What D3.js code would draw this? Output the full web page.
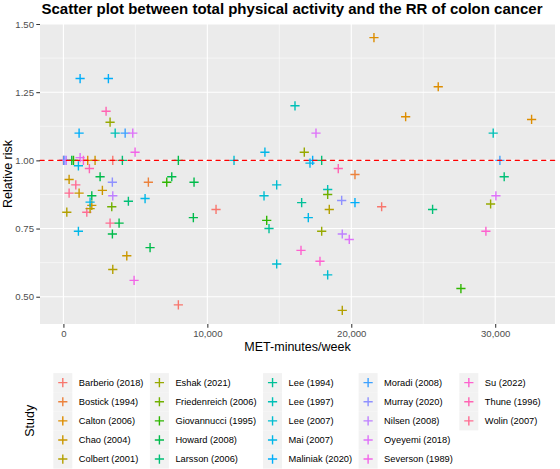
<!DOCTYPE html>
<html>
<head>
<meta charset="utf-8">
<script src="https://cdn.jsdelivr.net/npm/d3@7/dist/d3.min.js"></script>
<style>
  html, body { margin: 0; padding: 0; background: #ffffff; }
  svg { display: block; font-family: "Liberation Sans", Arial, sans-serif; }
</style>
</head>
<body>
<svg id="chart" width="560" height="469"></svg>
<script>
// ---------------- DATA ----------------
const studies = [
  "Barberio (2018)", "Bostick (1994)", "Calton (2006)", "Chao (2004)", "Colbert (2001)",
  "Eshak (2021)", "Friedenreich (2006)", "Giovannucci (1995)", "Howard (2008)", "Larsson (2006)",
  "Lee (1994)", "Lee (1997)", "Lee (2007)", "Mai (2007)", "Maliniak (2020)",
  "Moradi (2008)", "Murray (2020)", "Nilsen (2008)", "Oyeyemi (2018)", "Severson (1989)",
  "Su (2022)", "Thune (1996)", "Wolin (2007)"
];

// study of each point
const pointStudy = [
  "Maliniak (2020)", "Maliniak (2020)", "Thune (1996)", "Eshak (2021)", "Maliniak (2020)",
  "Lee (1997)", "Moradi (2008)", "Oyeyemi (2018)", "Severson (1989)", "Wolin (2007)",
  "Moradi (2008)", "Murray (2020)", "Nilsen (2008)", "Howard (2008)", "Giovannucci (1995)",
  "Mai (2007)", "Oyeyemi (2018)", "Su (2022)", "Calton (2006)", "Chao (2004)",
  "Thune (1996)", "Barberio (2018)", "Larsson (2006)", "Howard (2008)", "Howard (2008)",
  "Murray (2020)", "Chao (2004)", "Wolin (2007)", "Bostick (1994)", "Giovannucci (1995)",
  "Howard (2008)", "Howard (2008)", "Wolin (2007)", "Chao (2004)", "Chao (2004)",
  "Howard (2008)", "Nilsen (2008)", "Colbert (2001)", "Wolin (2007)", "Chao (2004)",
  "Colbert (2001)", "Mai (2007)", "Friedenreich (2006)", "Larsson (2006)", "Mai (2007)",
  "Howard (2008)", "Mai (2007)", "Wolin (2007)", "Howard (2008)", "Howard (2008)",
  "Howard (2008)", "Chao (2004)", "Colbert (2001)", "Severson (1989)", "Barberio (2018)",
  "Calton (2006)", "Lee (1997)", "Oyeyemi (2018)", "Mai (2007)", "Eshak (2021)",
  "Lee (2007)", "Mai (2007)", "Maliniak (2020)", "Larsson (2006)", "Thune (1996)",
  "Bostick (1994)", "Lee (2007)", "Lee (2007)", "Lee (1994)", "Lee (1997)",
  "Friedenreich (2006)", "Murray (2020)", "Maliniak (2020)", "Barberio (2018)", "Giovannucci (1995)",
  "Lee (1994)", "Mai (2007)", "Colbert (2001)", "Eshak (2021)", "Nilsen (2008)",
  "Oyeyemi (2018)", "Su (2022)", "Su (2022)", "Lee (2007)", "Lee (2007)",
  "Colbert (2001)", "Barberio (2018)", "Calton (2006)", "Calton (2006)", "Calton (2006)",
  "Lee (1997)", "Moradi (2008)", "Larsson (2006)", "Oyeyemi (2018)", "Eshak (2021)",
  "Larsson (2006)", "Su (2022)", "Giovannucci (1995)"
];

// MET-minutes/week of each point
const pointMet = [
  1160, 3125, 2965, 3243, 1090,
  3597, 4290, 4819, 4979, 0,
  30, 100, 200, 580, 700,
  1042, 1160, 1390, 1690, 2200,
  1805, 3430, 4097, 7986, 2549,
  3400, 396, 861, 5903, 7180,
  7528, 9076, 396, 1090, 2708,
  1972, 3430, 236, 1625, 1972,
  1854, 1854, 3360, 4514, 5674,
  9028, 1042, 3243, 3868, 3403,
  6021, 4403, 3430, 4910, 7986,
  21576, 16090, 17549, 14000, 16736,
  11854, 17132, 17317, 17944, 19097,
  20257, 14819, 13938, 16553, 18361,
  18361, 19333, 20257, 10604, 14125,
  14285, 17014, 18472, 17944, 19375,
  19861, 16507, 17826, 14819, 18361,
  19375, 22111, 26042, 23778, 32528,
  29861, 30326, 30625, 30049, 29681,
  25650, 29354, 27618
];

// relative risk of each point
const pointRR = [
  1.30, 1.30, 1.18, 1.14, 1.10,
  1.10, 1.10, 1.10, 1.03, 1.00,
  1.00, 1.00, 1.00, 1.00, 1.00,
  0.98, 1.01, 1.00, 1.00, 1.00,
  0.97, 1.00, 1.00, 1.00, 0.94,
  0.92, 0.93, 0.91, 0.92, 0.92,
  0.94, 0.92, 0.88, 0.88, 0.89,
  0.87, 0.87, 0.81, 0.81, 0.835,
  0.823, 0.847, 0.83, 0.85, 0.86,
  0.79, 0.74, 0.77, 0.77, 0.73,
  0.68, 0.65, 0.60, 0.56, 0.47,
  1.45, 1.20, 1.10, 1.03, 1.03,
  1.00, 0.99, 1.00, 1.00, 0.97,
  0.948, 0.91, 0.87, 0.845, 0.893,
  0.875, 0.853, 0.845, 0.82, 0.78,
  0.75, 0.79, 0.82, 0.74, 0.73,
  0.71, 0.67, 0.63, 0.62, 0.58,
  0.45, 0.83, 1.27, 1.16, 1.15,
  1.10, 1.00, 0.94, 0.87, 0.84,
  0.82, 0.74, 0.53
];

const xTicks = [0, 10000, 20000, 30000];
const yTicks = [0.50, 0.75, 1.00, 1.25, 1.50];
const xMinor = [5000, 15000, 25000];
const yMinor = [0.625, 0.875, 1.125, 1.375];
const refLineRR = 1.0;

const titleText = "Scatter plot between total physical activity and the RR of colon cancer";
const xTitle = "MET-minutes/week";
const yTitle = "Relative risk";
const legendTitle = "Study";

// ---------------- COLOURS (ggplot2 hue palette, R hcl / polarLUV) ----------------
function hclR(h, c, l) {
  const hr = h * Math.PI / 180;
  const u = c * Math.cos(hr), v = c * Math.sin(hr);
  const Xn = 95.047, Yn = 100, Zn = 108.883;
  const Y = Yn * (l > 8 ? Math.pow((l + 16) / 116, 3) : l / 903.3);
  const t = Xn + 15 * Yn + 3 * Zn;
  const un = 4 * Xn / t, vn = 9 * Yn / t;
  const up = u / (13 * l) + un, vp = v / (13 * l) + vn;
  const X = 9 * Y * up / (4 * vp);
  const Z = -X / 3 - 5 * Y + 3 * Y / vp;
  const x = X / 100, y = Y / 100, z = Z / 100;
  const lin = [
    3.240479 * x - 1.537150 * y - 0.498535 * z,
    -0.969256 * x + 1.875992 * y + 0.041556 * z,
    0.055648 * x - 0.204043 * y + 1.057311 * z
  ];
  const g = lin.map(q => {
    const s = q <= 0.0031308 ? 12.92 * q : 1.055 * Math.pow(q, 1 / 2.4) - 0.055;
    return Math.round(Math.max(0, Math.min(1, s)) * 255);
  });
  return d3.rgb(g[0], g[1], g[2]).formatHex();
}
const nS = studies.length;
const palette = studies.map((s, i) => hclR(15 + 360 * i / nS, 100, 65));
const color = d3.scaleOrdinal().domain(studies).range(palette);

// ---------------- LAYOUT ----------------
const svg = d3.select("#chart");
const panel = { left: 40, right: 555, top: 24, bottom: 324 };

const xExt = d3.extent(pointMet), yExt = d3.extent(pointRR);
const xPad = (xExt[1] - xExt[0]) * 0.05, yPad = (yExt[1] - yExt[0]) * 0.05;
const x = d3.scaleLinear().domain([xExt[0] - xPad, xExt[1] + xPad]).range([panel.left, panel.right]);
const y = d3.scaleLinear().domain([yExt[0] - yPad, yExt[1] + yPad]).range([panel.bottom, panel.top]);

// panel background
svg.append("rect")
  .attr("x", panel.left).attr("y", panel.top)
  .attr("width", panel.right - panel.left).attr("height", panel.bottom - panel.top)
  .attr("fill", "#EBEBEB");

const grid = svg.append("g");
grid.selectAll(".xminor").data(xMinor).join("line")
  .attr("x1", d => x(d)).attr("x2", d => x(d))
  .attr("y1", panel.top).attr("y2", panel.bottom)
  .attr("stroke", "#fff").attr("stroke-width", 0.55);
grid.selectAll(".yminor").data(yMinor).join("line")
  .attr("y1", d => y(d)).attr("y2", d => y(d))
  .attr("x1", panel.left).attr("x2", panel.right)
  .attr("stroke", "#fff").attr("stroke-width", 0.55);
grid.selectAll(".xmajor").data(xTicks).join("line")
  .attr("x1", d => x(d)).attr("x2", d => x(d))
  .attr("y1", panel.top).attr("y2", panel.bottom)
  .attr("stroke", "#fff").attr("stroke-width", 1.1);
grid.selectAll(".ymajor").data(yTicks).join("line")
  .attr("y1", d => y(d)).attr("y2", d => y(d))
  .attr("x1", panel.left).attr("x2", panel.right)
  .attr("stroke", "#fff").attr("stroke-width", 1.1);

// points
const plusPath = "M-4.6,0H4.6M0,-4.6V4.6";
svg.append("g").selectAll("path").data(pointMet.map((m, i) => ({ m, r: pointRR[i], s: pointStudy[i] })))
  .join("path")
  .attr("transform", d => `translate(${x(d.m)},${y(d.r)})`)
  .attr("d", plusPath)
  .attr("stroke", d => color(d.s))
  .attr("stroke-width", 1.4)
  .attr("fill", "none");

// reference line
svg.append("line")
  .attr("x1", panel.left).attr("x2", panel.right)
  .attr("y1", y(refLineRR)).attr("y2", y(refLineRR))
  .attr("stroke", "#FF0000").attr("stroke-width", 1.3)
  .attr("stroke-dasharray", "4.2,4.6").attr("stroke-linecap", "round");

// axes
const fAxis = 9.6;
const xAxis = svg.append("g").attr("transform", `translate(0,${panel.bottom})`)
  .call(d3.axisBottom(x).tickValues(xTicks).tickFormat(d3.format(",")).tickSize(3.7).tickPadding(2.3));
const yAxis = svg.append("g").attr("transform", `translate(${panel.left},0)`)
  .call(d3.axisLeft(y).tickValues(yTicks).tickFormat(d3.format(".2f")).tickSize(3.7).tickPadding(2.3));
[xAxis, yAxis].forEach(a => {
  a.select(".domain").remove();
  a.selectAll(".tick line").attr("stroke", "#333333").attr("stroke-width", 1.05);
  a.selectAll(".tick text").attr("fill", "#4D4D4D")
    .style("font-size", fAxis + "px").style("font-family", "Liberation Sans, Arial, sans-serif");
});

// titles
svg.append("text").attr("x", 292).attr("y", 13.5)
  .attr("text-anchor", "middle").style("font-size", "15px").style("font-weight", "bold")
  .attr("fill", "#000").text(titleText);
svg.append("text").attr("x", (panel.left + panel.right) / 2).attr("y", 351)
  .attr("text-anchor", "middle").style("font-size", "12.5px").attr("fill", "#000").text(xTitle);
svg.append("text").attr("transform", `translate(11.5,${(panel.top + panel.bottom) / 2}) rotate(-90)`)
  .attr("text-anchor", "middle").style("font-size", "12.5px").attr("fill", "#000").text(yTitle);

// legend
const rowsPer = 5, rowH = 19.1, legTop = 373.1, keyW = 19, labelOff = 16, fLeg = 9.3;
svg.append("text").attr("transform", `translate(34,${legTop + rowsPer * rowH / 2}) rotate(-90)`)
  .attr("text-anchor", "middle").style("font-size", "12.5px").attr("fill", "#000").text(legendTitle);

const leg = svg.append("g");
const nCols = Math.ceil(studies.length / rowsPer);
let keyCx = 62.8;
for (let c = 0; c < nCols; c++) {
  const items = studies.slice(c * rowsPer, (c + 1) * rowsPer);
  const col = leg.append("g");
  col.selectAll("rect").data(items).join("rect")
    .attr("x", keyCx - keyW / 2).attr("y", (d, i) => legTop + i * rowH)
    .attr("width", keyW).attr("height", rowH).attr("fill", "#F2F2F2");
  col.selectAll("path").data(items).join("path")
    .attr("transform", (d, i) => `translate(${keyCx},${legTop + i * rowH + rowH / 2})`)
    .attr("d", plusPath).attr("stroke", d => color(d)).attr("stroke-width", 1.4).attr("fill", "none");
  const texts = col.selectAll("text").data(items).join("text")
    .attr("x", keyCx + labelOff).attr("y", (d, i) => legTop + i * rowH + rowH / 2)
    .attr("dy", "0.35em").style("font-size", fLeg + "px").attr("fill", "#000").text(d => d);
  let maxW = 0;
  texts.each(function () { maxW = Math.max(maxW, this.getComputedTextLength()); });
  keyCx = keyCx + labelOff + maxW + 6.5 + keyW / 2;
}
</script>
</body>
</html>
